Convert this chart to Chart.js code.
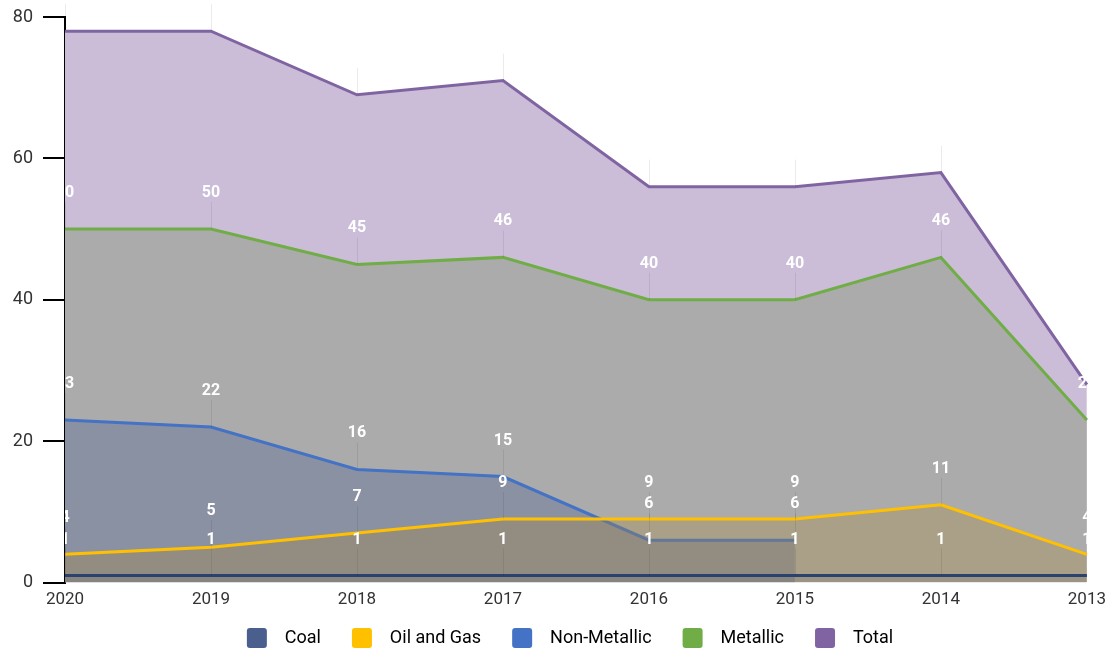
<!DOCTYPE html>
<html>
<head>
<meta charset="utf-8">
<script src="https://cdn.jsdelivr.net/npm/chart.js@4.4.1/dist/chart.umd.min.js"></script>
<style>
    html, body { margin: 0; padding: 0; background: #fff; }
    #wrap { width: 1113px; height: 650px; position: relative; }
</style>
</head>
<body>
<div id="wrap"><canvas id="areaChart"></canvas></div>
<script>
// Chart data
const years = ['2020', '2019', '2018', '2017', '2016', '2015', '2014', '2013'];
const coal = [1, 1, 1, 1, 1, 1, 1, 1];
const oilGas = [4, 5, 7, 9, 9, 9, 11, 4];
const nonMetallic = [23, 22, 16, 15, 6, 6, null, null];
const metallic = [50, 50, 45, 46, 40, 40, 46, 23];
const total = [78, 78, 69, 71, 56, 56, 58, 28];
const yTicks = [0, 20, 40, 60, 80];

const seriesNames = ['Coal', 'Oil and Gas', 'Non-Metallic', 'Metallic', 'Total'];
const legendColors = ['#4a5f8e', '#ffc000', '#4472c4', '#70ad47', '#8064a2'];

// white value labels above each point, with a faint leader line
const valueLabels = {
    id: 'valueLabels',
    afterDatasetsDraw(chart) {
        const ctx = chart.ctx;
        const area = chart.chartArea;
        ctx.save();
        ctx.beginPath();
        ctx.rect(area.left, 0, area.right - area.left, area.bottom);
        ctx.clip();

        chart.data.datasets.forEach((ds, i) => {
            const meta = chart.getDatasetMeta(i);
            meta.data.forEach((pt, j) => {
                if (ds.data[j] == null) return;
                ctx.beginPath();
                ctx.strokeStyle = 'rgba(0, 0, 0, 0.08)';
                ctx.lineWidth = 1;
                ctx.moveTo(Math.round(pt.x) + 0.5, pt.y);
                ctx.lineTo(Math.round(pt.x) + 0.5, pt.y - 27);
                ctx.stroke();
            });
        });

        ctx.fillStyle = '#ffffff';
        ctx.font = 'bold 16px Roboto';
        ctx.textAlign = 'center';
        ctx.textBaseline = 'middle';
        chart.data.datasets.forEach((ds, i) => {
            const meta = chart.getDatasetMeta(i);
            meta.data.forEach((pt, j) => {
                if (ds.data[j] == null) return;
                ctx.fillText(String(ds.data[j]), pt.x, pt.y - 36);
            });
        });
        ctx.restore();
    }
};

// keep the legend short and put it where the reference has it
const legendPlace = {
    id: 'legendPlace',
    beforeLayout(chart) {
        const lg = chart.legend;
        if (lg && !lg._shortFit) {
            const fit = lg.fit;
            lg.fit = function () {
                fit.call(this);
                this.height = 33;
            };
            lg._shortFit = true;
        }
    },
    afterLayout(chart) {
        const lg = chart.legend;
        if (!lg) return;
        lg.top = 597;
        lg.height = chart.height - lg.top;
        lg.bottom = chart.height;
        lg.left = 27;
        lg.right = chart.width;
        lg.width = lg.right - lg.left;
    }
};

function makeSeries(label, data, line, fill) {
    return {
        label: label,
        data: data,
        borderColor: line,
        backgroundColor: fill,
        borderWidth: 3,
        fill: 'origin',
        tension: 0,
        pointRadius: 0,
        pointHoverRadius: 0,
        spanGaps: false
    };
}

const ctx = document.getElementById('areaChart').getContext('2d');
new Chart(ctx, {
    type: 'line',
    data: {
        labels: years,
        datasets: [
            makeSeries(seriesNames[0], coal, '#2b4170', 'rgba(46, 68, 115, 0.12)'),
            makeSeries(seriesNames[1], oilGas, '#ffc000', 'rgba(168, 131, 54, 0.3)'),
            makeSeries(seriesNames[2], nonMetallic, '#4472c4', '#8a91a3'),
            makeSeries(seriesNames[3], metallic, '#70ad47', '#ababab'),
            makeSeries(seriesNames[4], total, '#8064a2', '#cbbdd8')
        ]
    },
    options: {
        responsive: true,
        maintainAspectRatio: false,
        animation: false,
        layout: {
            padding: { top: 17, right: 25, left: 0, bottom: 0 }
        },
        scales: {
            x: {
                grid: { display: false, drawTicks: false },
                border: { display: false },
                ticks: {
                    color: '#333',
                    font: { family: 'Roboto', size: 17 },
                    padding: 7,
                    maxRotation: 0
                }
            },
            y: {
                min: 0,
                max: 80,
                afterBuildTicks: scale => {
                    scale.ticks = yTicks.map(v => ({ value: v }));
                },
                afterFit: scale => {
                    scale.width = 65;
                    scale.paddingTop = 0;
                    scale.paddingBottom = 0;
                },
                grid: {
                    drawOnChartArea: false,
                    drawTicks: true,
                    tickLength: 22,
                    color: '#000',
                    lineWidth: 2
                },
                border: { display: true, color: '#000', width: 2 },
                ticks: {
                    color: '#333',
                    font: { family: 'Roboto', size: 18 },
                    padding: 10
                }
            }
        },
        plugins: {
            tooltip: { enabled: false },
            legend: {
                display: true,
                position: 'bottom',
                labels: {
                    boxWidth: 20,
                    boxHeight: 20,
                    padding: 31,
                    color: '#333',
                    font: { family: 'Roboto', size: 18 },
                    generateLabels: chart => seriesNames.map((name, i) => ({
                        text: '  ' + name,
                        fillStyle: legendColors[i],
                        strokeStyle: legendColors[i],
                        lineWidth: 0,
                        borderRadius: 3,
                        hidden: false,
                        datasetIndex: i
                    }))
                }
            }
        }
    },
    plugins: [valueLabels, legendPlace]
});
</script>
</body>
</html>
